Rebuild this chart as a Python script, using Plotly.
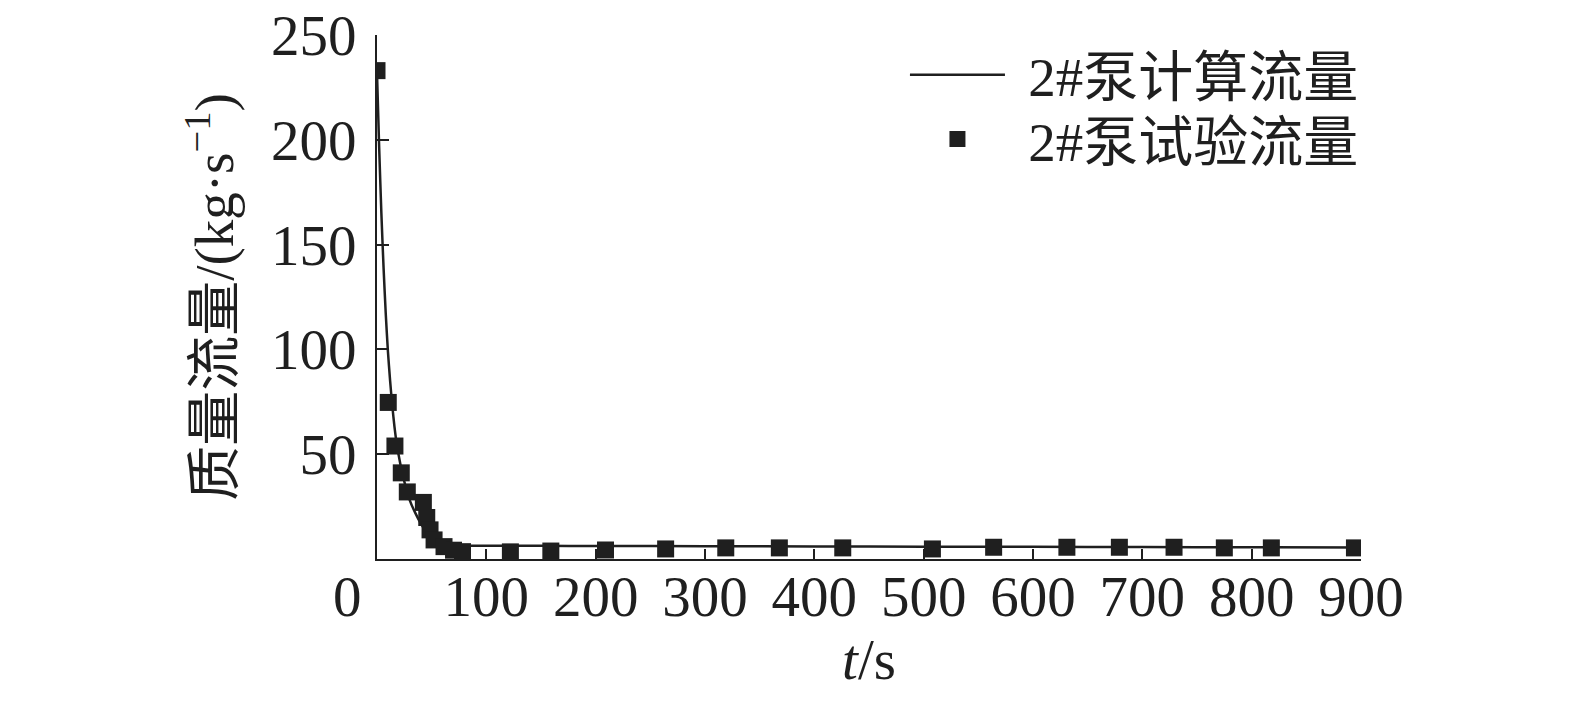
import plotly.graph_objects as go

# calculated flow curve (2# pump)
calc_t = [0, 2, 4, 6, 8, 10, 12, 14, 16, 18, 20, 23, 26, 30, 35, 40, 45, 50, 55, 60,
          70, 80, 100, 150, 200, 300, 400, 500, 600, 700, 800, 900]
calc_flow = [232, 196, 165, 139, 117, 99, 85, 73, 63, 55, 49, 41, 35, 28, 22, 17, 13,
             10, 8.2, 7.2, 6.5, 6.3, 6.3, 6.3, 6.2, 6.1, 6.0, 5.9, 5.8, 5.7, 5.6, 5.5]

# test flow points
test_t = [0, 10.3, 16.4, 22.2, 27.7, 42.4, 45.5, 48.5, 52.2, 61.3, 70, 78.2,
          122, 159, 209, 264, 319, 368, 426, 508, 564, 631, 679, 729, 775, 818, 894]
test_flow = [233, 74.7, 53.9, 41.1, 32, 27, 19.8, 13.9, 9.1, 5.9, 4.2, 3.5,
             3.4, 3.8, 4.3, 4.8, 5.3, 5.3, 5.3, 4.8, 5.6, 5.6, 5.6, 5.6, 5.3, 5.3, 5.3]

x_ticks = [100, 200, 300, 400, 500, 600, 700, 800, 900]
y_ticks = [50, 100, 150, 200, 250]

FONT = "Liberation Serif, 'Times New Roman', 'Noto Sans CJK SC', serif"
INK = "#1f1f1f"
FS = 57      # tick / title size
FS_LEG = 55  # legend size
GAP = "\u00a0\u200a"  # space between legend symbol and text

fig = go.Figure()
fig.add_trace(go.Scatter(
    x=calc_t, y=calc_flow, mode="lines", name=GAP + "2#泵计算流量",
    line=dict(color=INK, width=2.5, shape="spline", smoothing=0.6),
    legend="legend",
))
fig.add_trace(go.Scatter(
    x=test_t, y=test_flow, mode="markers", name=GAP + "2#泵试验流量",
    marker=dict(symbol="square", size=17, color=INK, line=dict(width=0)),
    legend="legend2",
))

# shared origin label
fig.add_annotation(
    text="0", x=0, y=0, xref="x", yref="y", showarrow=False,
    xanchor="center", yanchor="top", xshift=-30, yshift=-4,
    font=dict(family=FONT, size=FS, color=INK),
)

leg = dict(
    x=1.003, xanchor="right", yanchor="top",
    bgcolor="rgba(0,0,0,0)", font=dict(family=FONT, size=FS_LEG, color=INK),
    itemwidth=95,
)

# margins allow for the 8px body offset of the page
fig.update_layout(
    width=1575, height=705,
    paper_bgcolor="white", plot_bgcolor="white",
    margin=dict(l=369, r=222, t=27, b=154, autoexpand=False),
    font=dict(family=FONT, size=FS, color=INK),
    showlegend=True,
    legend=dict(leg, y=1.005),
    legend2=dict(leg, y=0.882),
    xaxis=dict(
        range=[0, 900], tickvals=x_ticks, ticks="inside", ticklen=10, tickwidth=2,
        tickcolor=INK, showline=True, linecolor=INK, linewidth=2, showgrid=False,
        zeroline=False, tickfont=dict(family=FONT, size=FS, color=INK),
        ticklabelstandoff=-13, ticklabeloverflow="allow",
        title=dict(text="<i>t</i>/s", font=dict(family=FONT, size=FS, color=INK), standoff=4),
    ),
    yaxis=dict(
        range=[0, 250], tickvals=y_ticks, ticks="inside", ticklen=12, tickwidth=2,
        tickcolor=INK, showline=True, linecolor=INK, linewidth=2, showgrid=False,
        zeroline=False, tickfont=dict(family=FONT, size=FS, color=INK),
        ticklabelstandoff=7, ticklabeloverflow="allow",
        title=dict(text="质量流量/(kg·s<sup>−1</sup>)",
                   font=dict(family=FONT, size=FS_LEG, color=INK), standoff=20),
    ),
)

fig.write_html("out.html")
